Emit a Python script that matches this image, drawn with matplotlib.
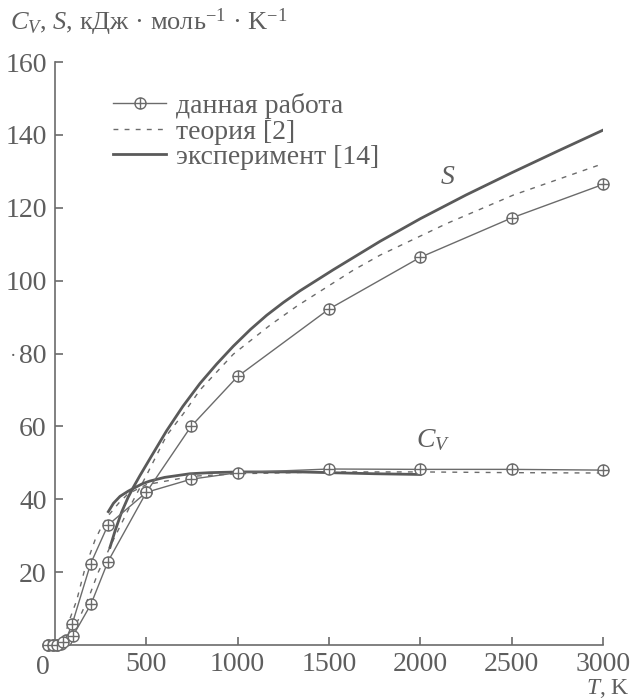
import matplotlib
matplotlib.use("Agg")
import matplotlib.pyplot as plt
from matplotlib.path import Path

plt.rcParams['font.family'] = ['Liberation Serif', 'DejaVu Serif']
plt.rcParams['mathtext.fontset'] = 'custom'
plt.rcParams['mathtext.rm'] = 'Liberation Serif'
plt.rcParams['mathtext.it'] = 'Liberation Serif:italic'

# ---- data ----
T_cv_work = [-37, -13, 9, 31, 60, 95, 195, 290, 500, 745, 1000, 1500, 2000, 2500, 3000]
cv_work = [0, 0, 0, 0.3, 1.4, 5.9, 22.3, 32.9, 41.9, 45.5, 47.3, 48.3, 48.2, 48.2, 48.0]

T_s_work = [-37, -13, 9, 46, 97, 197, 290, 500, 745, 1000, 1500, 2000, 2500, 3000]
s_work = [0, 0, 0, 0.8, 2.4, 11.2, 22.9, 41.9, 60.0, 73.7, 92.2, 106.4, 117.2, 126.4]

T_s_theory = [60, 137, 192, 237, 319, 400, 500, 611, 703, 794, 976, 1178, 1324, 1634, 1780, 2146, 2510, 3000]
s_theory = [0.5, 7.8, 14.0, 20.0, 28.8, 37.0, 46.5, 57.5, 63.5, 70.0, 79.8, 87.8, 93.0, 102.9, 107.0, 115.7, 123.5, 132.1]

T_cv_theory = [50, 73, 119, 164, 219, 260, 300, 350, 400, 500, 750, 1000, 1500, 2000, 2500, 3000]
cv_theory = [1.5, 6.0, 12.3, 21.0, 28.8, 33.0, 36.0, 39.0, 41.5, 44.0, 46.3, 47.0, 47.5, 47.5, 47.3, 47.2]

T_cv_exp = [292, 320, 356, 400, 438, 480, 520, 600, 739, 850, 1013, 1341, 1500, 1750, 2000]
cv_exp = [36.6, 38.9, 40.8, 42.2, 43.2, 44.3, 45.0, 46.0, 47.0, 47.3, 47.5, 47.5, 47.3, 47.0, 46.8]

T_s_exp = [301, 330, 365, 400, 429, 465, 530, 611, 700, 794, 885, 976, 1070, 1159, 1250, 1341, 1524, 1780, 2000, 2250, 2500, 2750, 3000]
s_exp = [26.8, 31.5, 36.5, 40.5, 43.3, 46.5, 52.0, 58.8, 65.5, 71.8, 77.1, 82.0, 86.6, 90.5, 94.0, 97.2, 103.0, 110.8, 117.0, 123.5, 129.6, 135.5, 141.3]

x_ticks = [500, 1000, 1500, 2000, 2500, 3000]
y_ticks = [20, 40, 60, 80, 100, 120, 140, 160]

legend_labels = ['данная работа', 'теория [2]', 'эксперимент [14]']

# ---- style ----
gray = '#6b6b6b'
text_gray = '#5e5e5e'

circ = Path.unit_circle()
cross = Path([(-1, 0), (1, 0), (0, -1), (0, 1)],
             [Path.MOVETO, Path.LINETO, Path.MOVETO, Path.LINETO])
oplus = Path.make_compound_path(circ, cross)

fig = plt.figure(figsize=(6.33, 6.99), dpi=100)
ax = fig.add_axes([55 / 633, 54 / 699, 548 / 633, 583 / 699])

ax.plot(T_cv_work, cv_work, color=gray, lw=1.0, marker=oplus, ms=8,
        mfc='white', mec=gray, mew=1.0, clip_on=False, zorder=4,
        label=legend_labels[0])
ax.plot(T_s_work, s_work, color=gray, lw=1.0, marker=oplus, ms=8,
        mfc='white', mec=gray, mew=1.0, clip_on=False, zorder=4)

ax.plot(T_s_theory, s_theory, color=gray, lw=1.0, ls=(0, (3.5, 4.5)),
        label=legend_labels[1], zorder=3)
ax.plot(T_cv_theory, cv_theory, color=gray, lw=1.0, ls=(0, (3.5, 4.5)), zorder=3)

ax.plot(T_s_exp, s_exp, color='#5a5a5a', lw=2.0, label=legend_labels[2],
        zorder=3, solid_joinstyle='round')
ax.plot(T_cv_exp, cv_exp, color='#5a5a5a', lw=2.0, zorder=3,
        solid_joinstyle='round')

ax.set_xlim(0, 3000)
ax.set_ylim(0, 160)
for s in ['top', 'right']:
    ax.spines[s].set_visible(False)
for s in ['left', 'bottom']:
    ax.spines[s].set_color(gray)
    ax.spines[s].set_linewidth(1.2)

ax.set_xticks(x_ticks)
ax.set_xticklabels([str(v) for v in x_ticks])
ax.set_yticks(y_ticks)
ax.set_yticklabels([str(v) for v in y_ticks])
ax.tick_params(direction='in', length=6, width=1.2, color=gray,
               labelcolor=text_gray, labelsize=20)
ax.tick_params(axis='x', pad=5)
ax.tick_params(axis='y', pad=6)

ax.text(-66, -2.7, '0', ha='center', va='top', fontsize=20, color=text_gray,
        clip_on=False)

fig.text(10 / 633, 1 - 22 / 699,
         r'$C_V$, $S$, кДж · моль$^{-1}$ · K$^{-1}$',
         ha='left', va='center', fontsize=19, color=text_gray)
fig.text(630 / 633, 1 - 694 / 699, r'$T$, K', ha='right', va='baseline',
         fontsize=17, color=text_gray)
fig.text(10 / 633, 1 - 356 / 699, '·', ha='left', va='center',
         fontsize=14, color=text_gray)

ax.text(2151, 128.2, r'$S$', fontsize=20, color=text_gray, ha='center', va='center')
ax.text(2069, 56.3, r'$C_V$', fontsize=20, color=text_gray, ha='center', va='center')

leg = ax.legend(loc='upper left', bbox_to_anchor=(47 / 548, 1 - 20 / 583),
                frameon=False, fontsize=20, labelcolor=text_gray,
                handlelength=1.9, handletextpad=0.35, labelspacing=0.0,
                borderaxespad=0)

fig.savefig('out.png', dpi=100)
